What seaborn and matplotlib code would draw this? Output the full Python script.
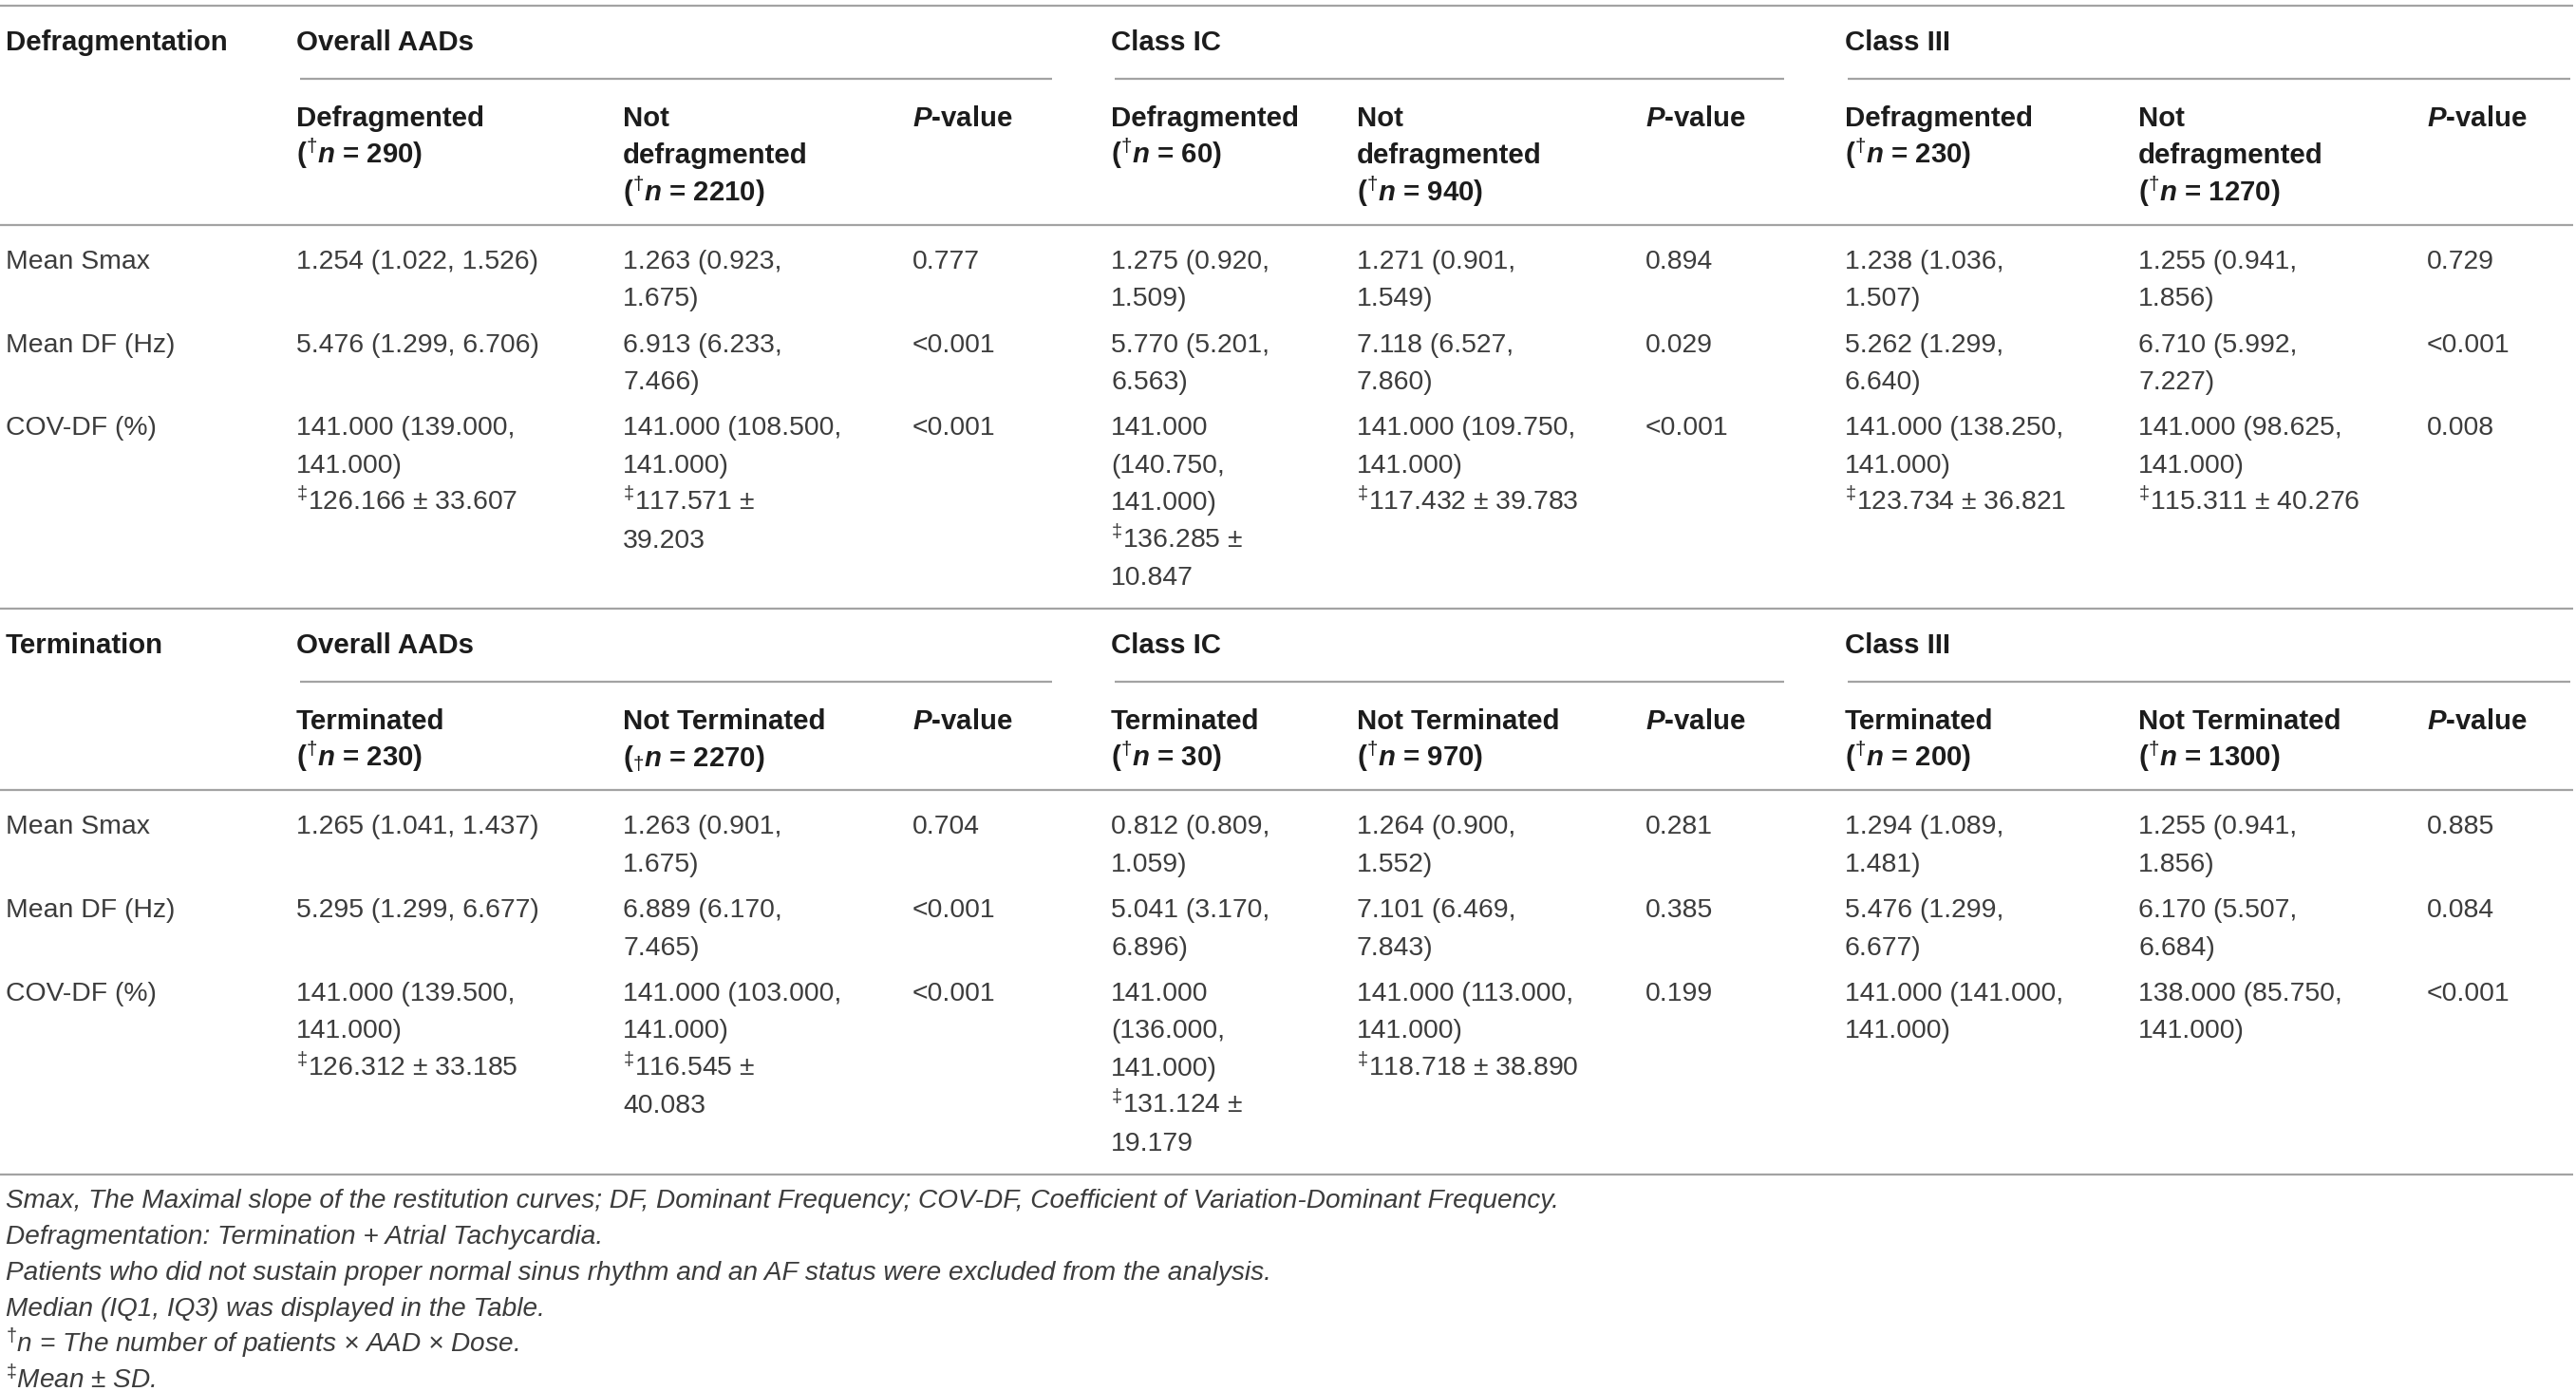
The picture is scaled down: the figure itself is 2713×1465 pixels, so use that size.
import matplotlib
matplotlib.use("Agg")
import matplotlib.pyplot as plt
import seaborn as sns

# ---- table content ----
sections = ["Defragmentation", "Termination"]
groups = ["Overall AADs", "Class IC", "Class III"]
row_labels = ["Mean Smax", "Mean DF (Hz)", "COV-DF (%)"]


def n_label(n, low=False):
    mark = r"_{\dagger}" if low else r"^{\dagger}"
    return "($" + mark + r"\mathbfit{n}$ = " + str(n) + ")"


PVAL = r"$\mathbfit{P}$-value"

defrag_heads = [
    "Defragmented\n" + n_label(290), "Not\ndefragmented\n" + n_label(2210), PVAL,
    "Defragmented\n" + n_label(60), "Not\ndefragmented\n" + n_label(940), PVAL,
    "Defragmented\n" + n_label(230), "Not\ndefragmented\n" + n_label(1270), PVAL,
]
term_heads = [
    "Terminated\n" + n_label(230), "Not Terminated\n" + n_label(2270, low=True), PVAL,
    "Terminated\n" + n_label(30), "Not Terminated\n" + n_label(970), PVAL,
    "Terminated\n" + n_label(200), "Not Terminated\n" + n_label(1300), PVAL,
]

defrag_smax = ["1.254 (1.022, 1.526)", "1.263 (0.923,\n1.675)", "0.777",
               "1.275 (0.920,\n1.509)", "1.271 (0.901,\n1.549)", "0.894",
               "1.238 (1.036,\n1.507)", "1.255 (0.941,\n1.856)", "0.729"]
defrag_df = ["5.476 (1.299, 6.706)", "6.913 (6.233,\n7.466)", "<0.001",
             "5.770 (5.201,\n6.563)", "7.118 (6.527,\n7.860)", "0.029",
             "5.262 (1.299,\n6.640)", "6.710 (5.992,\n7.227)", "<0.001"]
defrag_cov = ["141.000 (139.000,\n141.000)\n‡126.166 ± 33.607",
              "141.000 (108.500,\n141.000)\n‡117.571 ±\n39.203", "<0.001",
              "141.000\n(140.750,\n141.000)\n‡136.285 ±\n10.847",
              "141.000 (109.750,\n141.000)\n‡117.432 ± 39.783", "<0.001",
              "141.000 (138.250,\n141.000)\n‡123.734 ± 36.821",
              "141.000 (98.625,\n141.000)\n‡115.311 ± 40.276", "0.008"]

term_smax = ["1.265 (1.041, 1.437)", "1.263 (0.901,\n1.675)", "0.704",
             "0.812 (0.809,\n1.059)", "1.264 (0.900,\n1.552)", "0.281",
             "1.294 (1.089,\n1.481)", "1.255 (0.941,\n1.856)", "0.885"]
term_df = ["5.295 (1.299, 6.677)", "6.889 (6.170,\n7.465)", "<0.001",
           "5.041 (3.170,\n6.896)", "7.101 (6.469,\n7.843)", "0.385",
           "5.476 (1.299,\n6.677)", "6.170 (5.507,\n6.684)", "0.084"]
term_cov = ["141.000 (139.500,\n141.000)\n‡126.312 ± 33.185",
            "141.000 (103.000,\n141.000)\n‡116.545 ±\n40.083", "<0.001",
            "141.000\n(136.000,\n141.000)\n‡131.124 ±\n19.179",
            "141.000 (113.000,\n141.000)\n‡118.718 ± 38.890", "0.199",
            "141.000 (141.000,\n141.000)", "138.000 (85.750,\n141.000)", "<0.001"]

footnotes = [
    "Smax, The Maximal slope of the restitution curves; DF, Dominant Frequency; "
    "COV-DF, Coefficient of Variation-Dominant Frequency.",
    "Defragmentation: Termination + Atrial Tachycardia.",
    "Patients who did not sustain proper normal sinus rhythm and an AF status were excluded from the analysis.",
    "Median (IQ1, IQ3) was displayed in the Table.",
    "†n = The number of patients × AAD × Dose.",
    "‡Mean ± SD.",
]

tables = [
    (defrag_heads, [defrag_smax, defrag_df, defrag_cov]),
    (term_heads, [term_smax, term_df, term_cov]),
]

# ---- layout (pixels) ----
W, H = 2713, 1465
col_x = [6, 312, 656, 961, 1170, 1429, 1733, 1943, 2252, 2556]
group_lines = [(316, 1108), (1174, 1879), (1946, 2707)]
LINE = 39.4
ROW_GAP = 9
BASE = 10          # baseline offset from line centre
RULE = "#a3a3a3"
HEAD_C = "#1c1c1c"
BODY_C = "#3c3c3c"
FS = 20.4
FS_HEAD = 21.2
FS_NOTE = 20.2

sns.set_theme(style="white")
plt.rcParams["font.family"] = ["Liberation Sans", "DejaVu Sans"]
plt.rcParams["mathtext.fontset"] = "custom"
plt.rcParams["mathtext.rm"] = "Liberation Sans"
plt.rcParams["mathtext.it"] = "Liberation Sans:italic"
plt.rcParams["mathtext.bf"] = "Liberation Sans:bold"
plt.rcParams["mathtext.bfit"] = "Liberation Sans:italic:bold"

fig = plt.figure(figsize=(W / 100, H / 100), dpi=100)
ax = fig.add_axes([0, 0, 1, 1])
ax.set_xlim(0, W)
ax.set_ylim(H, 0)
ax.axis("off")


def rule(y, x0=0, x1=W - 3):
    ax.plot([x0, x1], [y, y], color=RULE, lw=1.6, solid_capstyle="butt")


def cell(x, y, text, size=FS, **kw):
    lines = text.split("\n")
    for i, ln in enumerate(lines):
        ln = ln.replace("‡", r"$^{\ddagger}$")
        ax.text(x, y + i * LINE + BASE, ln, ha="left", va="baseline",
                fontsize=size, **kw)
    return len(lines)


y = 6
rule(y)
for name, (heads, rows) in zip(sections, tables):
    title_y = y + 37
    cell(col_x[0], title_y, name, FS_HEAD, color=HEAD_C, fontweight="bold")
    for g, gname in enumerate(groups):
        cell(col_x[1 + 3 * g], title_y, gname, FS_HEAD, color=HEAD_C, fontweight="bold")
    sub_y = title_y + 40
    for x0, x1 in group_lines:
        rule(sub_y, x0, x1)
    head_y = sub_y + 40
    nh = max(cell(col_x[1 + i], head_y, h, FS_HEAD, color=HEAD_C, fontweight="bold")
             for i, h in enumerate(heads))
    line_y = head_y + (nh - 1) * LINE + 35
    rule(line_y)
    row_y = line_y + 36
    for label, vals in zip(row_labels, rows):
        cell(col_x[0], row_y, label, color=BODY_C)
        n = max(cell(col_x[1 + i], row_y, v, color=BODY_C) for i, v in enumerate(vals))
        last_y = row_y + (n - 1) * LINE
        row_y += n * LINE + ROW_GAP
    y = last_y + 35
    rule(y)

fy = y + 25
for note in footnotes:
    note = note.replace("†", r"$^{\dagger}$").replace("‡", r"$^{\ddagger}$")
    ax.text(col_x[0], fy + BASE, note, ha="left", va="baseline", fontsize=FS_NOTE,
            style="italic", color=BODY_C)
    fy += 38

fig.savefig("out.png", dpi=100)
